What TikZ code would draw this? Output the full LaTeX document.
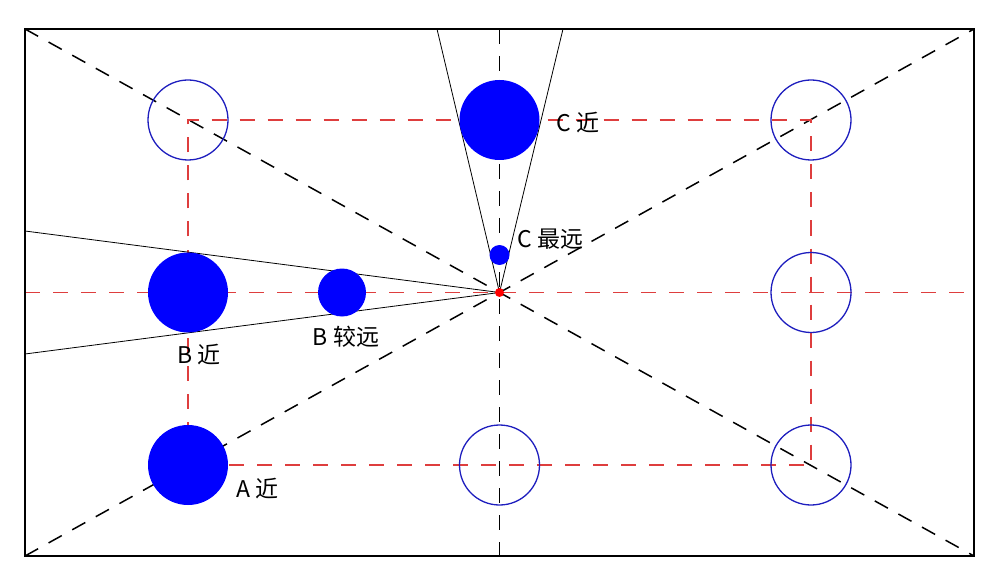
\documentclass[tikz,border=0pt]{standalone}
\usepackage{fontspec}
\newfontfamily\cjkfont{Noto Sans CJK SC}
\usetikzlibrary{backgrounds}
\definecolor{guidered}{RGB}{222,62,62}
\definecolor{ringblue}{RGB}{30,30,190}

\begin{document}
\begin{tikzpicture}[
  x=0.5pt, y=-0.5pt,
  ball/.style={circle, fill=blue, inner sep=0pt, minimum size=#1},
  ball/.default=40pt,
  ring/.style={circle, draw=ringblue, line width=0.65pt, inner sep=0pt, minimum size=40pt},
  guide/.style={dash pattern=on 7.5pt off 6.5pt, line width=0.9pt, guidered},
  axisline/.style={dash pattern=on 7.5pt off 6pt, line width=0.75pt, black},
  ray/.style={line width=0.4pt, black},
  lbl/.style={font=\cjkfont\fontsize{11.5}{13}\selectfont, inner sep=0pt}
]
\useasboundingbox (0,0) rectangle (1000,588);

% frame corners and centre
\coordinate (tl) at (25,29);
\coordinate (tr) at (974,29);
\coordinate (bl) at (25,556);
\coordinate (br) at (974,556);
\coordinate (top) at (499.5,29);
\coordinate (bot) at (499.5,556);
\coordinate (lft) at (25,292.5);
\coordinate (rgt) at (974,292.5);

% empty positions
\node[ring] (r1) at (188,120) {};
\node[ring] (r2) at (811,120) {};
\node[ring] (r3) at (811,292.5) {};
\node[ring] (r4) at (811,465) {};
\node[ring] (r5) at (499.5,465) {};

% balls
\node[ball] (cnear) at (499.5,120) {};
\node[ball=10pt] (cfar) at (499.5,255) {};
\node[ball] (bnear) at (188,292.5) {};
\node[ball=24pt] (bfar) at (342,292.5) {};
\node[ball] (anear) at (188,465) {};
\node[circle, fill=red, inner sep=0pt, minimum size=4.5pt] (o) at (499.5,292.5) {};

% labels
\node[lbl, anchor=west] at (556,123) {C 近};
\node[lbl, anchor=west] at (517,239) {C 最远};
\node[lbl] at (199,355) {B 近};
\node[lbl] at (346,337) {B 较远};
\node[lbl, anchor=west] at (236,489) {A 近};

% free ends of the sight lines
\coordinate (c1) at (437,29);
\coordinate (c2) at (563,29);
\coordinate (b1) at (25,231);
\coordinate (b2) at (25,354);

\begin{scope}[on background layer]
  \draw[axisline] (tl) -- (o.center) -- (br);
  \draw[axisline] (bl) -- (o.center) -- (tr);
  \draw[axisline] (top) -- (bot);
  \draw[guide] (lft) -- (rgt);
  \draw[guide] (bnear.center) -- (r1.center) -- (r2.center) -- (r4.center) -- (anear.center) -- cycle;
  \draw[ray] (o.center) -- (c1);
  \draw[ray] (o.center) -- (c2);
  \draw[ray] (o.center) -- (b1);
  \draw[ray] (o.center) -- (b2);
\end{scope}
\draw[line width=0.8pt] (tl) rectangle (br);
\end{tikzpicture}
\end{document}
